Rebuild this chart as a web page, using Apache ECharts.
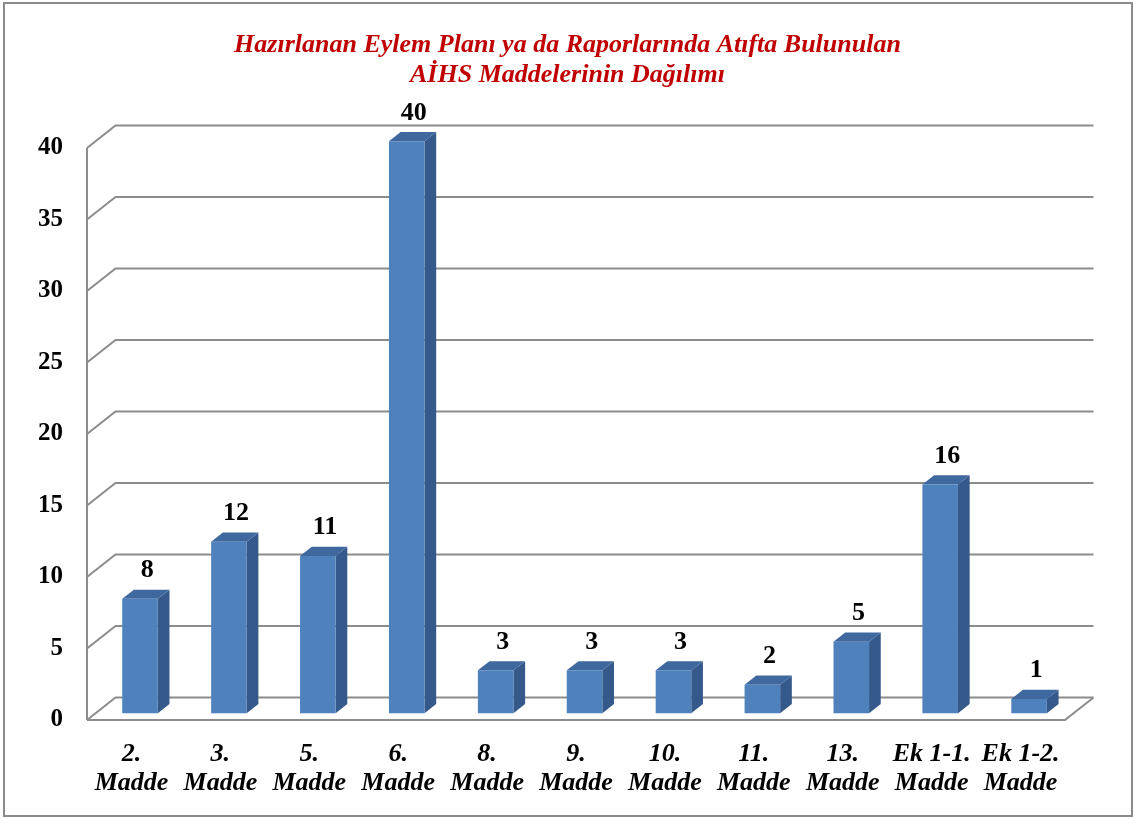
<!DOCTYPE html>
<html>
<head>
<meta charset="utf-8">
<script src="https://cdn.jsdelivr.net/npm/echarts@6/dist/echarts.min.js"></script>
<style>
html,body{margin:0;padding:0;background:#fff;}
#chart{width:1135px;height:819px;}
</style>
</head>
<body>
<div id="chart"></div>
<script>
const titleText = 'Hazırlanan Eylem Planı ya da Raporlarında Atıfta Bulunulan\nAİHS Maddelerinin Dağılımı';
const categories = ['2.\nMadde', '3.\nMadde', '5.\nMadde', '6.\nMadde', '8.\nMadde', '9.\nMadde', '10.\nMadde', '11.\nMadde', '13.\nMadde', 'Ek 1-1.\nMadde', 'Ek 1-2.\nMadde'];
const values = [8, 12, 11, 40, 3, 3, 3, 2, 5, 16, 1];
const yTicks = [0, 5, 10, 15, 20, 25, 30, 35, 40];

const DX = 28.5, DY = -22.5;      // depth offset of the 3D floor
const F1 = 0.30, F2 = 0.71;       // bar front/back depth fractions
const FONT = '"Liberation Serif", "Times New Roman", serif';
const GRID_COLOR = '#8C8C8C';

const chart = echarts.init(document.getElementById('chart'));

function gridItem(params, api) {
  const cs = params.coordSys;
  const v = yTicks[params.dataIndex];
  const y = api.coord([0, v])[1];
  const x0 = cs.x, x1 = cs.x + cs.width;
  const style = { stroke: GRID_COLOR, lineWidth: 2, fill: null };
  const children = [{
    type: 'polyline',
    shape: { points: [[x0, y], [x0 + DX, y + DY], [x1 + DX, y + DY]] },
    style: style
  }];
  if (v === 0) {
    children.push({
      type: 'polyline',
      shape: { points: [[x0, y], [x1, y], [x1 + DX, y + DY]] },
      style: style
    });
    const yTop = api.coord([0, yTicks[yTicks.length - 1]])[1];
    children.push({
      type: 'line',
      shape: { x1: x0, y1: yTop, x2: x0, y2: y },
      style: style
    });
  }
  return { type: 'group', children: children };
}

function barItem(params, api) {
  const i = api.value(0), v = api.value(1);
  const top = api.coord([i, v]);
  const base = api.coord([i, 0]);
  const bw = api.size([1, 0])[0] * 0.4;
  const xl = top[0] - bw / 2, xr = top[0] + bw / 2;
  const fx1 = F1 * DX, fy1 = F1 * DY, fx2 = F2 * DX, fy2 = F2 * DY;
  const yt = top[1], yb = base[1];
  return {
    type: 'group',
    children: [
      { type: 'polygon', shape: { points: [[xr + fx1, yt + fy1], [xr + fx2, yt + fy2], [xr + fx2, yb + fy2], [xr + fx1, yb + fy1]] },
        style: { fill: '#34598A' } },
      { type: 'polygon', shape: { points: [[xl + fx1, yt + fy1], [xl + fx2, yt + fy2], [xr + fx2, yt + fy2], [xr + fx1, yt + fy1]] },
        style: { fill: '#3F689E' } },
      { type: 'rect', shape: { x: xl + fx1, y: yt + fy1, width: bw, height: yb - yt },
        style: { fill: '#4F81BD' } },
      { type: 'text',
        style: { text: String(v), x: top[0] + 0.55 * DX, y: yt + fy2 - 19, align: 'center', verticalAlign: 'middle',
          font: 'bold 26px ' + FONT, fill: '#000' } }
    ]
  };
}

chart.setOption({
  animation: false,
  title: {
    text: titleText,
    left: 'center',
    top: 25,
    textStyle: { color: '#C00000', fontFamily: FONT, fontStyle: 'italic', fontWeight: 'bold', fontSize: 26, lineHeight: 30 }
  },
  graphic: [{
    type: 'rect', shape: { x: 4, y: 3, width: 1128, height: 813 },
    style: { fill: null, stroke: '#8A8A8A', lineWidth: 2 }, z: -10
  }],
  grid: { left: 87, right: 70, top: 148, bottom: 99 },
  xAxis: {
    type: 'category',
    data: categories,
    axisLine: { show: false }, axisTick: { show: false },
    axisLabel: { interval: 0, margin: 20, color: '#000', fontFamily: FONT, fontStyle: 'italic', fontWeight: 'bold', fontSize: 26, lineHeight: 29 }
  },
  yAxis: {
    type: 'value', min: 0, max: 40, interval: 5,
    axisLine: { show: false }, axisTick: { show: false }, splitLine: { show: false },
    axisLabel: { margin: 24, color: '#000', fontFamily: FONT, fontWeight: 'bold', fontSize: 25 }
  },
  series: [
    { type: 'custom', renderItem: gridItem, data: yTicks.map(v => [0, v]), z: 1, silent: true },
    { type: 'custom', renderItem: barItem, data: values.map((v, i) => [i, v]), z: 2,
      encode: { x: 0, y: 1 } }
  ]
});
</script>
</body>
</html>
